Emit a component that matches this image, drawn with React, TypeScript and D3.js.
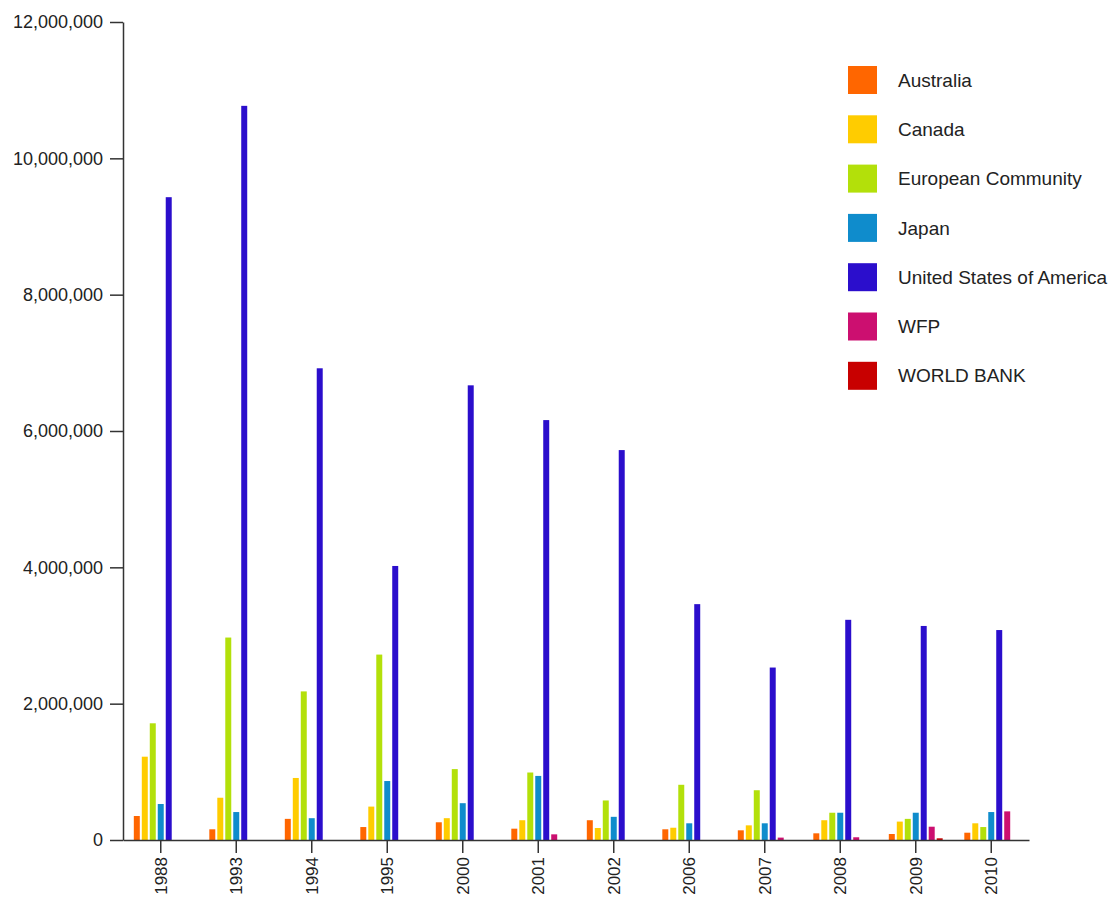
import React, { useEffect, useRef } from "react";
import * as d3 from "d3";

// Years on the category axis
const years = ["1988", "1993", "1994", "1995", "2000", "2001", "2002", "2006", "2007", "2008", "2009", "2010"];

// Donor names, in the order bars are drawn within each year
const donors = ["Australia", "Canada", "European Community", "Japan", "United States of America", "WFP", "WORLD BANK"];

// Values per donor, one per year
const australia = [352000, 157000, 310000, 190000, 260000, 166000, 290000, 157000, 142000, 98000, 88000, 107000];
const canada = [1222000, 620000, 910000, 490000, 320000, 290000, 176000, 180000, 215000, 290000, 270000, 245000];
const europeanCommunity = [1712000, 2970000, 2180000, 2720000, 1040000, 990000, 580000, 810000, 730000, 400000, 310000, 190000];
const japan = [528000, 410000, 320000, 865000, 540000, 940000, 340000, 245000, 245000, 400000, 400000, 410000];
const unitedStates = [9430000, 10770000, 6920000, 4020000, 6670000, 6160000, 5720000, 3460000, 2530000, 3230000, 3140000, 3080000];
const wfp = [0, 0, 0, 0, 0, 83000, 0, 0, 35000, 40000, 195000, 420000];
const worldBank = [0, 0, 0, 0, 0, 0, 0, 0, 0, 0, 25000, 0];

const seriesValues = [australia, canada, europeanCommunity, japan, unitedStates, wfp, worldBank];

const palette = ["#ff6600", "#ffcc00", "#b3e00a", "#0f8ccc", "#2b0ecc", "#cc0f70", "#c80000"];

const yTicks = [0, 2000000, 4000000, 6000000, 8000000, 10000000, 12000000];

const W = 1115;
const H = 899;
const FONT = "'Liberation Sans', Arial, Helvetica, sans-serif";

export default function App() {
  const xAxisRef = useRef<SVGGElement>(null);
  const yAxisRef = useRef<SVGGElement>(null);

  const left = 123;
  const right = 1029;
  const top = 22;
  const bottom = 840;

  const x0 = d3.scaleBand<string>().domain(years).range([left, right]).paddingInner(0.26).paddingOuter(0.13);
  const x1 = d3.scaleBand<string>().domain(donors).range([0, x0.bandwidth()]).paddingInner(0.25).paddingOuter(0.125);
  const y = d3.scaleLinear().domain([0, 12000000]).range([bottom, top]);
  const color = d3.scaleOrdinal<string, string>().domain(donors).range(palette);

  useEffect(() => {
    const xa = d3.select(xAxisRef.current!);
    xa.selectAll("*").remove();
    xa.call(d3.axisBottom(x0).tickSize(13).tickSizeOuter(0));
    xa.selectAll(".domain").attr("stroke", "#333").attr("stroke-width", 1.5);
    xa.selectAll(".tick line").attr("stroke", "#333").attr("stroke-width", 1.5);
    xa.selectAll(".tick text")
      .attr("transform", "rotate(-90)")
      .attr("text-anchor", "end")
      .attr("x", -17)
      .attr("y", 0)
      .attr("dy", "0.35em")
      .attr("fill", "#222")
      .style("font-size", "17px")
      .style("font-family", FONT);

    const ya = d3.select(yAxisRef.current!);
    ya.selectAll("*").remove();
    ya.call(d3.axisLeft(y).tickValues(yTicks).tickFormat(d3.format(",") as any).tickSize(13).tickSizeOuter(0).tickPadding(7));
    ya.selectAll(".domain").attr("stroke", "#333").attr("stroke-width", 1.5);
    ya.selectAll(".tick line").attr("stroke", "#333").attr("stroke-width", 1.5);
    ya.selectAll(".tick text")
      .attr("fill", "#222")
      .style("font-size", "18px")
      .style("font-family", FONT);
  }, []);

  const legendX = 848;
  const legendY = 66;
  const legendStep = 49.3;

  return (
    <svg
      width={W}
      height={H}
      style={{ position: "absolute", left: 0, top: 0, background: "#fff" }}
      fontFamily={FONT}
    >
      <g>
        {years.map((yr, i) => (
          <g key={yr} transform={`translate(${x0(yr)},0)`}>
            {donors.map((d, s) => {
              const v = seriesValues[s][i];
              if (!v) return null;
              return (
                <rect
                  key={d}
                  x={x1(d)}
                  y={y(v)}
                  width={x1.bandwidth()}
                  height={bottom - y(v)}
                  fill={color(d)}
                />
              );
            })}
          </g>
        ))}
      </g>
      <g ref={xAxisRef} transform={`translate(0,${bottom})`} />
      <g ref={yAxisRef} transform={`translate(${left},0)`} />
      <g>
        {donors.map((d, i) => (
          <g key={d} transform={`translate(${legendX},${legendY + i * legendStep})`}>
            <rect x={0} y={0} width={29} height={28} fill={color(d)} />
            <text x={50} y={14} dy="0.35em" fontSize={19} fill="#222">
              {d}
            </text>
          </g>
        ))}
      </g>
    </svg>
  );
}
